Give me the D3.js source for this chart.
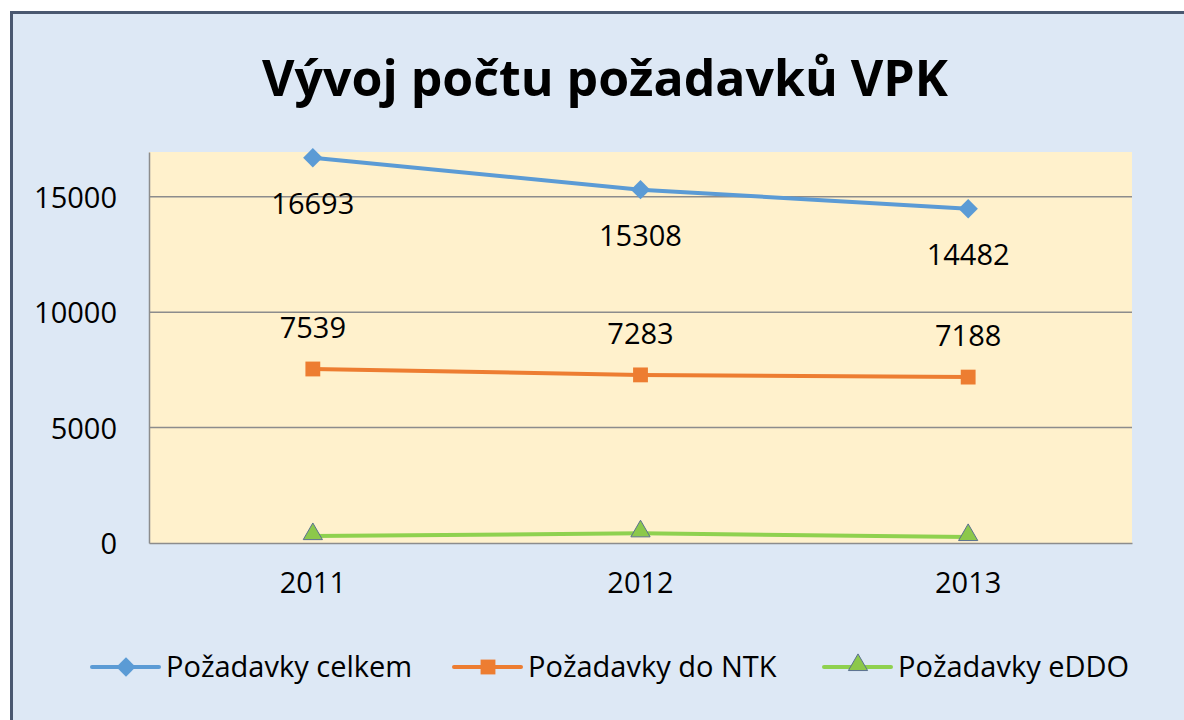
<!DOCTYPE html>
<html>
<head>
<meta charset="utf-8">
<script src="https://cdn.jsdelivr.net/npm/d3@7"></script>
<style>
  body { margin: 0; background: #fff; }
  svg text { font-family: "Open Sans", "Noto Sans", sans-serif; fill: #000; }
</style>
</head>
<body>
<div id="chart"></div>
<script>
// data
const years = ["2011", "2012", "2013"];
const celkem = [16693, 15308, 14482];
const ntk = [7539, 7283, 7188];
const eddo = [300, 420, 260];
const yTicks = [0, 5000, 10000, 15000];
const seriesNames = ["Požadavky celkem", "Požadavky do NTK", "Požadavky eDDO"];

const W = 1184, H = 720;
const margin = { top: 152, right: 52, bottom: 177, left: 149 };
const width = W - margin.left - margin.right,
    height = H - margin.top - margin.bottom;

const svg = d3.select("#chart").append("svg")
    .attr("width", W)
    .attr("height", H);

// chart area background + border
svg.append("rect")
    .attr("x", 11.5).attr("y", 12.5)
    .attr("width", W + 20).attr("height", H + 20)
    .attr("fill", "#dde8f5")
    .attr("stroke", "#4a5870")
    .attr("stroke-width", 3);

svg.append("text")
    .attr("x", 605).attr("y", 96)
    .attr("text-anchor", "middle")
    .style("font-size", "50px")
    .style("font-weight", "bold")
    .text("Vývoj počtu požadavků VPK");

const chart = svg.append("g")
    .attr("transform", `translate(${margin.left},${margin.top})`);

chart.append("rect")
    .attr("width", width).attr("height", height)
    .attr("fill", "#fff1cc");

const x = d3.scaleBand().domain(years).range([0, width]);
const y = d3.scaleLinear().domain([0, 16940]).range([height, 0]);
const cx = d => x(d) + x.bandwidth() / 2;

// gridlines
chart.selectAll(".grid")
    .data(yTicks.filter(d => d > 0))
    .enter().append("line")
    .attr("x1", 0).attr("x2", width)
    .attr("y1", d => y(d)).attr("y2", d => y(d))
    .attr("stroke", "#8c8c8c")
    .attr("stroke-width", 1.5);

const yAxis = chart.append("g")
    .call(d3.axisLeft(y).tickValues(yTicks).tickFormat(d3.format("d")).tickSize(0).tickPadding(32));
yAxis.select(".domain").attr("stroke", "#8c8c8c").attr("stroke-width", 1.5);
yAxis.selectAll("text").style("font-size", "29px").attr("dy", "0.36em");

const xAxis = chart.append("g")
    .attr("transform", `translate(0,${height})`)
    .call(d3.axisBottom(x).tickSize(0).tickPadding(29));
xAxis.select(".domain").attr("stroke", "#8c8c8c").attr("stroke-width", 1.5);
xAxis.selectAll("text").style("font-size", "29px");

const series = [
    { name: seriesNames[0], values: celkem, color: "#5b9bd5", marker: "diamond", labelDy: 56 },
    { name: seriesNames[1], values: ntk, color: "#ed7d31", marker: "square", labelDy: -31 },
    { name: seriesNames[2], values: eddo, color: "#8fd14f", marker: "triangle", labelDy: null }
];

const line = d3.line().x((d, i) => cx(years[i])).y(d => y(d));

function drawMarker(g, s, px, py, size) {
    if (s.marker === "diamond") {
        g.append("path")
            .attr("d", d3.symbol(d3.symbolDiamond2, size * 2.4)())
            .attr("transform", `translate(${px},${py})`)
            .attr("fill", s.color);
    } else if (s.marker === "square") {
        g.append("path")
            .attr("d", d3.symbol(d3.symbolSquare, size * 2.2)())
            .attr("transform", `translate(${px},${py})`)
            .attr("fill", s.color);
    } else {
        g.append("path")
            .attr("d", d3.symbol(d3.symbolTriangle, size * 1.6)())
            .attr("transform", `translate(${px},${py - 2})`)
            .attr("fill", "#8cc84b")
            .attr("stroke", "#5a7090")
            .attr("stroke-width", 1);
    }
}

series.forEach(s => {
    chart.append("path")
        .datum(s.values)
        .attr("d", line)
        .attr("fill", "none")
        .attr("stroke", s.color)
        .attr("stroke-width", 4);
    s.values.forEach((v, i) => {
        drawMarker(chart, s, cx(years[i]), y(v), 100);
        if (s.labelDy !== null) {
            chart.append("text")
                .attr("x", cx(years[i]))
                .attr("y", y(v) + s.labelDy)
                .attr("text-anchor", "middle")
                .style("font-size", "29px")
                .text(v);
        }
    });
});

// legend
const legendX = [92, 454, 824];
const legend = svg.append("g").attr("transform", "translate(0,667)");
series.forEach((s, i) => {
    const g = legend.append("g").attr("transform", `translate(${legendX[i]},0)`);
    g.append("line")
        .attr("x1", 0).attr("x2", 67)
        .attr("stroke", s.color)
        .attr("stroke-width", 4)
        .attr("stroke-linecap", "round");
    drawMarker(g, s, 34, 0, 100);
    g.append("text")
        .attr("x", 74)
        .attr("dy", "0.35em")
        .style("font-size", "29px")
        .text(s.name);
});
</script>
</body>
</html>
